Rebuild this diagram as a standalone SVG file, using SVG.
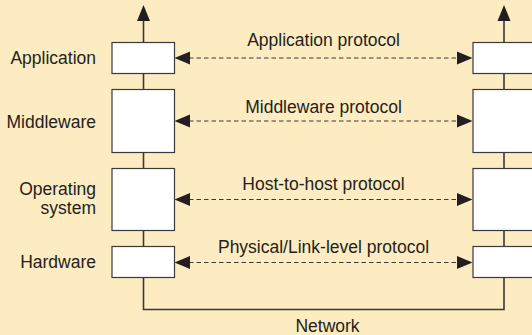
<svg xmlns="http://www.w3.org/2000/svg" width="532" height="335" viewBox="0 0 532 335">
<defs>
<style>
.bg{fill:#fdebc1}
.box{fill:#ffffff;stroke:#3a3a3a;stroke-width:1.2}
.line{fill:none;stroke:#3a3a3a;stroke-width:1.6}
.dash{fill:none;stroke:#3a3a3a;stroke-width:1.2;stroke-dasharray:4.5 3}
.head{fill:#231f20}
text{font-family:"Liberation Sans",Arial,sans-serif;font-size:17.5px;fill:#231f20}
.r{text-anchor:end}
.m{text-anchor:middle}
</style>
</defs>
<rect class="bg" x="0" y="0" width="532" height="335"/>
<g id="connectors">
<path class="line" d="M143.5 20 V309.5 H504 V20"/>
<polygon class="head" points="143.5,5 137,21 150,21"/>
<polygon class="head" points="504,5 497.5,21 510.5,21"/>
<line class="dash" x1="189" y1="58" x2="458" y2="58"/>
<polygon class="head" points="174.5,58 190,51.5 190,64.5"/>
<polygon class="head" points="472.5,58 457,51.5 457,64.5"/>
<line class="dash" x1="189" y1="121" x2="458" y2="121"/>
<polygon class="head" points="174.5,121 190,114.5 190,127.5"/>
<polygon class="head" points="472.5,121 457,114.5 457,127.5"/>
<line class="dash" x1="189" y1="199.5" x2="458" y2="199.5"/>
<polygon class="head" points="174.5,199.5 190,193 190,206"/>
<polygon class="head" points="472.5,199.5 457,193 457,206"/>
<line class="dash" x1="189" y1="262.5" x2="458" y2="262.5"/>
<polygon class="head" points="174.5,262.5 190,256 190,269"/>
<polygon class="head" points="472.5,262.5 457,256 457,269"/>
</g>
<g id="app-left"><rect class="box" x="112" y="42.5" width="62.5" height="31"/><text class="r" x="96" y="63.5">Application</text></g>
<g id="mw-left"><rect class="box" x="112" y="89.5" width="62.5" height="63"/><text class="r" x="96" y="127.5">Middleware</text></g>
<g id="os-left"><rect class="box" x="112" y="168.5" width="62.5" height="62"/><text class="r" x="96" y="195">Operating</text><text class="r" x="96" y="214">system</text></g>
<g id="hw-left"><rect class="box" x="112" y="246.5" width="62.5" height="31"/><text class="r" x="96" y="268">Hardware</text></g>
<g id="app-right"><rect class="box" x="473" y="42.5" width="65" height="31"/></g>
<g id="mw-right"><rect class="box" x="473" y="89.5" width="65" height="63"/></g>
<g id="os-right"><rect class="box" x="473" y="168.5" width="65" height="62"/></g>
<g id="hw-right"><rect class="box" x="473" y="246.5" width="65" height="31"/></g>
<g id="labels">
<text class="m" x="323.5" y="46">Application protocol</text>
<text class="m" x="323.5" y="112.5">Middleware protocol</text>
<text class="m" x="323.5" y="190">Host-to-host protocol</text>
<text class="m" x="323.5" y="252.5">Physical/Link-level protocol</text>
<text class="m" x="327.5" y="331.5">Network</text>
</g>
</svg>
